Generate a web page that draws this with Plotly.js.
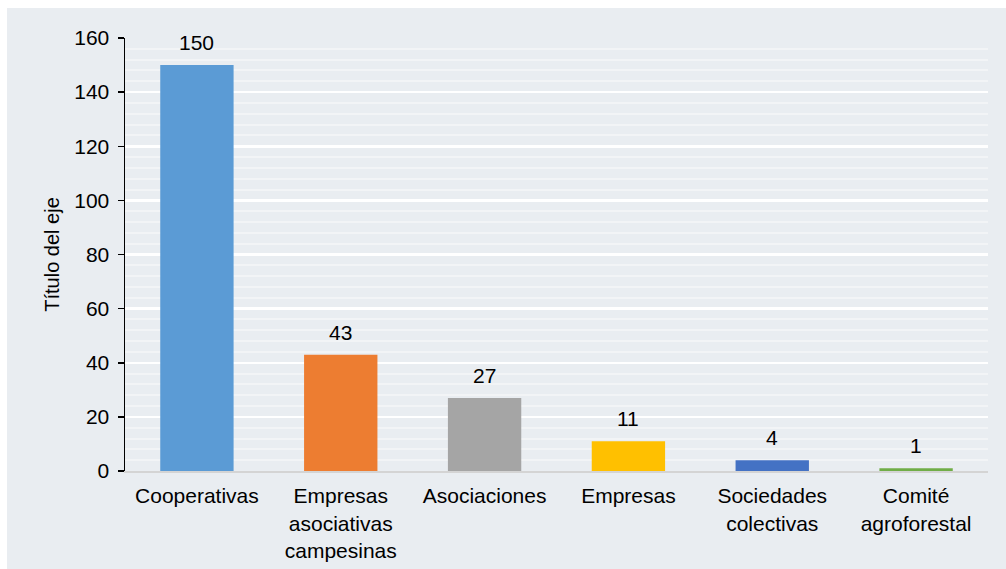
<!DOCTYPE html>
<html>
<head>
<meta charset="utf-8">
<script src="https://cdn.plot.ly/plotly-3.0.1.min.js"></script>
<style>
html,body{margin:0;padding:0;background:#ffffff;width:1006px;height:569px;overflow:hidden;}
#chart{position:absolute;left:7px;top:8px;width:999px;height:561px;}
</style>
</head>
<body>
<div id="chart"></div>
<script>
const categories = ["Cooperativas", "Empresas<br>asociativas<br>campesinas", "Asociaciones", "Empresas", "Sociedades<br>colectivas", "Comité<br>agroforestal"];
const values = [150, 43, 27, 11, 4, 1];
const barColors = ["#5b9bd5", "#ed7d31", "#a5a5a5", "#ffc000", "#4472c4", "#70ad47"];
const yTitle = "Título del eje";

const FONT = "Liberation Sans, Arial, sans-serif";

const trace = {
  type: "bar",
  x: categories,
  y: values,
  marker: {color: barColors, line: {width: 0}},
  width: 0.51,
  hoverinfo: "none"
};

const annotations = categories.map((c, i) => ({
  x: c,
  y: values[i],
  xref: "x",
  yref: "y",
  text: String(values[i]),
  showarrow: false,
  yanchor: "bottom",
  yshift: 9,
  font: {family: FONT, size: 21, color: "#000000"}
}));

const layout = {
  width: 999,
  height: 561,
  paper_bgcolor: "#e9edf1",
  plot_bgcolor: "#e9edf1",
  margin: {l: 118, r: 18, t: 30, b: 98},
  font: {family: FONT, size: 21, color: "#000000"},
  showlegend: false,
  bargap: 0.49,
  annotations: annotations,
  xaxis: {
    type: "category",
    showline: true,
    linecolor: "#d4d4d4",
    linewidth: 2,
    showgrid: false,
    ticks: "",
    tickfont: {size: 21},
    ticklabelstandoff: 5,
    zeroline: false
  },
  yaxis: {
    range: [0, 160],
    dtick: 20,
    tick0: 0,
    showline: true,
    linecolor: "#000000",
    linewidth: 1.5,
    ticks: "outside",
    ticklen: 6,
    tickwidth: 1.5,
    tickcolor: "#000000",
    showgrid: true,
    gridcolor: "#ffffff",
    gridwidth: 2.5,
    zeroline: false,
    tickfont: {size: 21},
    ticklabelstandoff: 4,
    minor: {dtick: 4, showgrid: true, gridcolor: "rgba(255,255,255,0.4)", gridwidth: 2, ticks: ""},
    title: {text: yTitle, font: {size: 20}, standoff: 9}
  }
};

Plotly.newPlot("chart", [trace], layout, {displayModeBar: false, staticPlot: true});
</script>
</body>
</html>
